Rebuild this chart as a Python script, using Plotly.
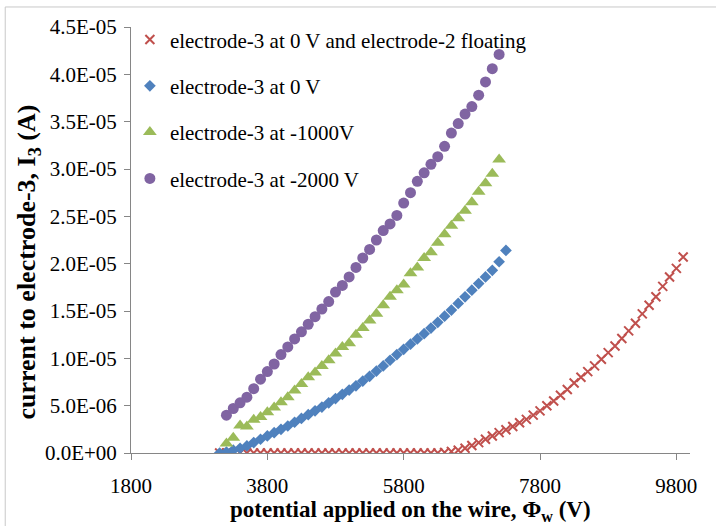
import plotly.graph_objects as go

# ---------------- data (values in amperes x 1e-6) ----------------
red_x = list(range(3100, 10000, 100))
red_y_uA = [0.0] * 33 + [
    0.05, 0.15, 0.3, 0.5, 0.8, 1.1, 1.45, 1.8, 2.15, 2.45,
    2.8, 3.2, 3.55, 4.0, 4.45, 5.0, 5.5, 6.1, 6.7, 7.4,
    8.0, 8.6, 9.2, 9.9, 10.6, 11.3, 12.1, 12.9, 13.7, 14.7,
    15.6, 16.5, 17.6, 18.6, 19.5, 20.7]

blue_x = list(range(3100, 7400, 100))
blue_y_uA = [
    0.0, 0.1, 0.3, 0.5, 0.75, 1.1, 1.45, 1.8, 2.15, 2.5,
    2.85, 3.25, 3.65, 4.05, 4.45, 4.85, 5.3, 5.75, 6.2, 6.65,
    7.1, 7.6, 8.1, 8.65, 9.2, 9.8, 10.4, 10.95, 11.5, 12.05,
    12.6, 13.2, 13.8, 14.45, 15.1, 15.8, 16.5, 17.2, 17.9, 18.6,
    19.3, 20.2, 21.4]

green_x = list(range(3200, 7300, 100))
green_y_uA = [
    1.0, 1.6, 2.9, 2.8, 3.5, 3.8, 4.3, 4.8, 5.35, 5.9,
    6.6, 7.3, 8.0, 8.5, 9.2, 9.8, 10.5, 11.2, 11.6, 12.5,
    13.2, 14.0, 14.7, 15.6, 16.5, 17.2, 17.8, 19.0, 19.6, 20.6,
    21.2, 22.2, 23.1, 24.0, 24.8, 25.6, 26.5, 27.6, 28.5, 29.5,
    31.0]

purple_x = list(range(3200, 7300, 100))
purple_y_uA = [
    4.0, 4.7, 5.3, 5.9, 6.8, 7.8, 8.6, 9.4, 10.4, 11.2,
    12.05, 12.8, 13.6, 14.4, 15.2, 16.0, 17.0, 17.7, 18.6, 19.6,
    20.6, 21.5, 22.5, 23.5, 24.2, 25.1, 26.4, 27.5, 28.7, 29.6,
    30.5, 31.3, 32.4, 33.8, 34.8, 35.8, 36.6, 37.8, 39.2, 40.6,
    42.1]

series_names = [
    "electrode-3 at 0 V and electrode-2 floating",
    "electrode-3 at 0 V",
    "electrode-3 at -1000V",
    "electrode-3 at -2000 V",
]

x_tickvals = [1800, 3800, 5800, 7800, 9800]
x_ticktext = ["1800", "3800", "5800", "7800", "9800"]
y_tickvals = [0, 5e-6, 1e-5, 1.5e-5, 2e-5, 2.5e-5, 3e-5, 3.5e-5, 4e-5, 4.5e-5]
y_ticktext = ["0.0E+00", "5.0E-06", "1.0E-05", "1.5E-05", "2.0E-05",
              "2.5E-05", "3.0E-05", "3.5E-05", "4.0E-05", "4.5E-05"]

x_title = "potential applied on the wire, Φ<sub>w</sub> (V)"
y_title = "current to electrode-3, I<sub>3</sub> (A)"

# ---------------- figure ----------------
def amps(vals):
    return [v * 1e-6 for v in vals]

FONT = "Liberation Serif, Times New Roman, serif"

fig = go.Figure()
fig.add_trace(go.Scatter(
    x=red_x, y=amps(red_y_uA), mode="markers", name=series_names[0],
    legendgroup="a",
    marker=dict(symbol="x-thin", size=9, color="#C0504D",
                line=dict(color="#C0504D", width=2))))
fig.add_trace(go.Scatter(
    x=blue_x, y=amps(blue_y_uA), mode="markers", name=series_names[1],
    legendgroup="b",
    marker=dict(symbol="diamond", size=9, color="#4F81BD")))
fig.add_trace(go.Scatter(
    x=green_x, y=amps(green_y_uA), mode="markers", name=series_names[2],
    legendgroup="c",
    marker=dict(symbol="triangle-up", size=12, color="#9BBB59")))
fig.add_trace(go.Scatter(
    x=purple_x, y=amps(purple_y_uA), mode="markers", name=series_names[3],
    legendgroup="d",
    marker=dict(symbol="circle", size=11, color="#8064A2")))

axis_common = dict(
    showgrid=False, zeroline=False, showline=True, linecolor="#868686",
    linewidth=1, ticks="outside", ticklen=6, tickcolor="#868686",
    tickfont=dict(family=FONT, size=21, color="#000000"),
)

fig.update_xaxes(range=[1800, 10000], tickvals=x_tickvals, ticktext=x_ticktext,
                 ticklabelstandoff=8, **axis_common)
fig.update_yaxes(range=[0, 4.5e-5], tickvals=y_tickvals, ticktext=y_ticktext,
                 ticklabelstandoff=3, **axis_common)

fig.update_layout(
    width=716, height=526,
    margin=dict(l=131, r=26, t=27, b=73),
    paper_bgcolor="white", plot_bgcolor="white",
    font=dict(family=FONT, size=21, color="#000000"),
    showlegend=True,
    legend=dict(x=-0.002, y=1.018, xanchor="left", yanchor="top",
                bgcolor="rgba(0,0,0,0)", font=dict(family=FONT, size=21),
                tracegroupgap=16, itemwidth=30),
    annotations=[
        dict(text="<b>" + x_title + "</b>", xref="paper", yref="paper",
             x=0.5, y=-0.0986, xanchor="center", yanchor="top",
             showarrow=False, font=dict(family=FONT, size=23)),
        dict(text="<b>" + y_title + "</b>", xref="paper", yref="paper",
             x=-0.1835, y=0.448, xanchor="center", yanchor="middle",
             textangle=-90, showarrow=False, font=dict(family=FONT, size=26)),
    ],
    shapes=[
        dict(type="line", xref="paper", yref="paper", x0=-0.225, x1=1.05,
             y0=1.047, y1=1.047, line=dict(color="#C8C8C8", width=1)),
        dict(type="line", xref="paper", yref="paper", x0=-0.225, x1=-0.225,
             y0=1.047, y1=-0.2, line=dict(color="#C8C8C8", width=1)),
    ],
)

fig.write_html("out.html", config={"displayModeBar": False},
               post_script="document.body.style.margin='0';document.body.style.padding='0';")
